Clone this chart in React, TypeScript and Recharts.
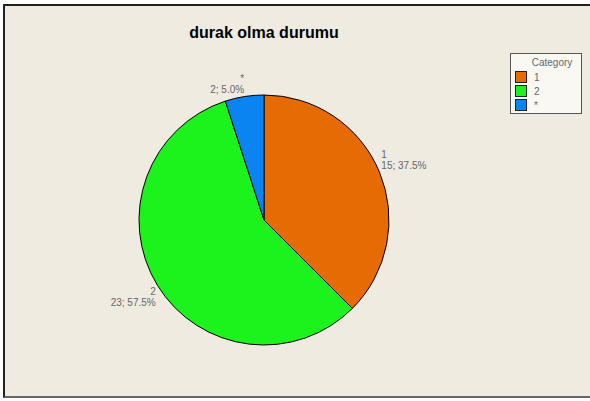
import React from 'react';
import { PieChart, Pie, Cell, Legend } from 'recharts';

const categories = ['1', '2', '*'];
const counts = [15, 23, 2];
const colors = ['#E66B05', '#1CF21C', '#0A84F0'];
const title = 'durak olma durumu';

const total = counts.reduce((a, b) => a + b, 0);
const data = categories.map((name, i) => ({ name, value: counts[i] }));

const RAD = Math.PI / 180;
const labelFont = 'Arial, "Liberation Sans", sans-serif';

const renderLabel = (props: any) => {
  const { cx, cy, midAngle, outerRadius, name, value } = props;
  const r = outerRadius + 2;
  const cos = Math.cos(-midAngle * RAD);
  const sin = Math.sin(-midAngle * RAD);
  const px = cx + r * cos;
  const py = cy + r * sin;
  const anchor = cos >= 0 ? 'start' : 'end';
  // text block sits outside the slice: above if upper half, below if lower
  const top = sin < 0 ? py - 22 : py;
  const pct = ((value / total) * 100).toFixed(1);
  return (
    <g>
      <text x={px} y={top + 5.5} textAnchor={anchor} dominantBaseline="central" fill="#666" fontSize={10} fontFamily={labelFont}>
        {name}
      </text>
      <text x={px} y={top + 16.5} textAnchor={anchor} dominantBaseline="central" fill="#666" fontSize={10} fontFamily={labelFont}>
        {`${value}; ${pct}%`}
      </text>
    </g>
  );
};

const LegendBox = () => (
  <div
    style={{
      width: 72,
      height: 61,
      border: '1px solid #555',
      background: '#FAF8F3',
      fontFamily: labelFont,
      fontSize: 10,
      color: '#666',
      boxSizing: 'border-box',
      position: 'relative',
    }}
  >
    <div style={{ position: 'absolute', top: 3, left: 0, width: 72, textAlign: 'center', paddingLeft: 10, boxSizing: 'border-box' }}>Category</div>
    {categories.map((c, i) => (
      <div key={c} style={{ position: 'absolute', left: 4, top: 17 + i * 14, display: 'flex', alignItems: 'center' }}>
        <span style={{ width: 10, height: 10, background: colors[i], border: '1px solid #222', display: 'inline-block' }} />
        <span style={{ marginLeft: 7 }}>{c}</span>
      </div>
    ))}
  </div>
);

export default function App() {
  return (
    <div style={{ position: 'fixed', left: 0, top: 0, width: 590, height: 401, background: '#fff', overflow: 'hidden' }}>
      <div
        style={{
          position: 'absolute',
          left: 3,
          top: 4,
          width: 620,
          height: 394,
          background: '#EFEBE0',
          borderLeft: '2px solid #222',
          borderTop: '2px solid #222',
          borderBottom: '2px solid #666',
          boxSizing: 'border-box',
        }}
      />
      <div
        style={{
          position: 'absolute',
          left: 0,
          top: 24,
          width: 528,
          textAlign: 'center',
          fontFamily: '"Liberation Sans", Arial, sans-serif',
          fontWeight: 'bold',
          fontSize: 16,
          color: '#000',
        }}
      >
        {title}
      </div>
      <div style={{ position: 'absolute', left: 0, top: 0 }}>
        <PieChart width={590} height={401} margin={{ top: 0, right: 0, bottom: 0, left: 0 }}>
          <Pie
            data={data}
            dataKey="value"
            nameKey="name"
            cx={264}
            cy={220}
            outerRadius={125}
            startAngle={90}
            endAngle={-270}
            stroke="#000"
            strokeWidth={1}
            label={renderLabel}
            labelLine={false}
            isAnimationActive={false}
          >
            {data.map((d, i) => (
              <Cell key={d.name} fill={colors[i]} />
            ))}
          </Pie>
          <Legend
            content={<LegendBox />}
            layout="vertical"
            wrapperStyle={{ position: 'absolute', left: 510, top: 53, width: 72, height: 61 }}
          />
        </PieChart>
      </div>
    </div>
  );
}
